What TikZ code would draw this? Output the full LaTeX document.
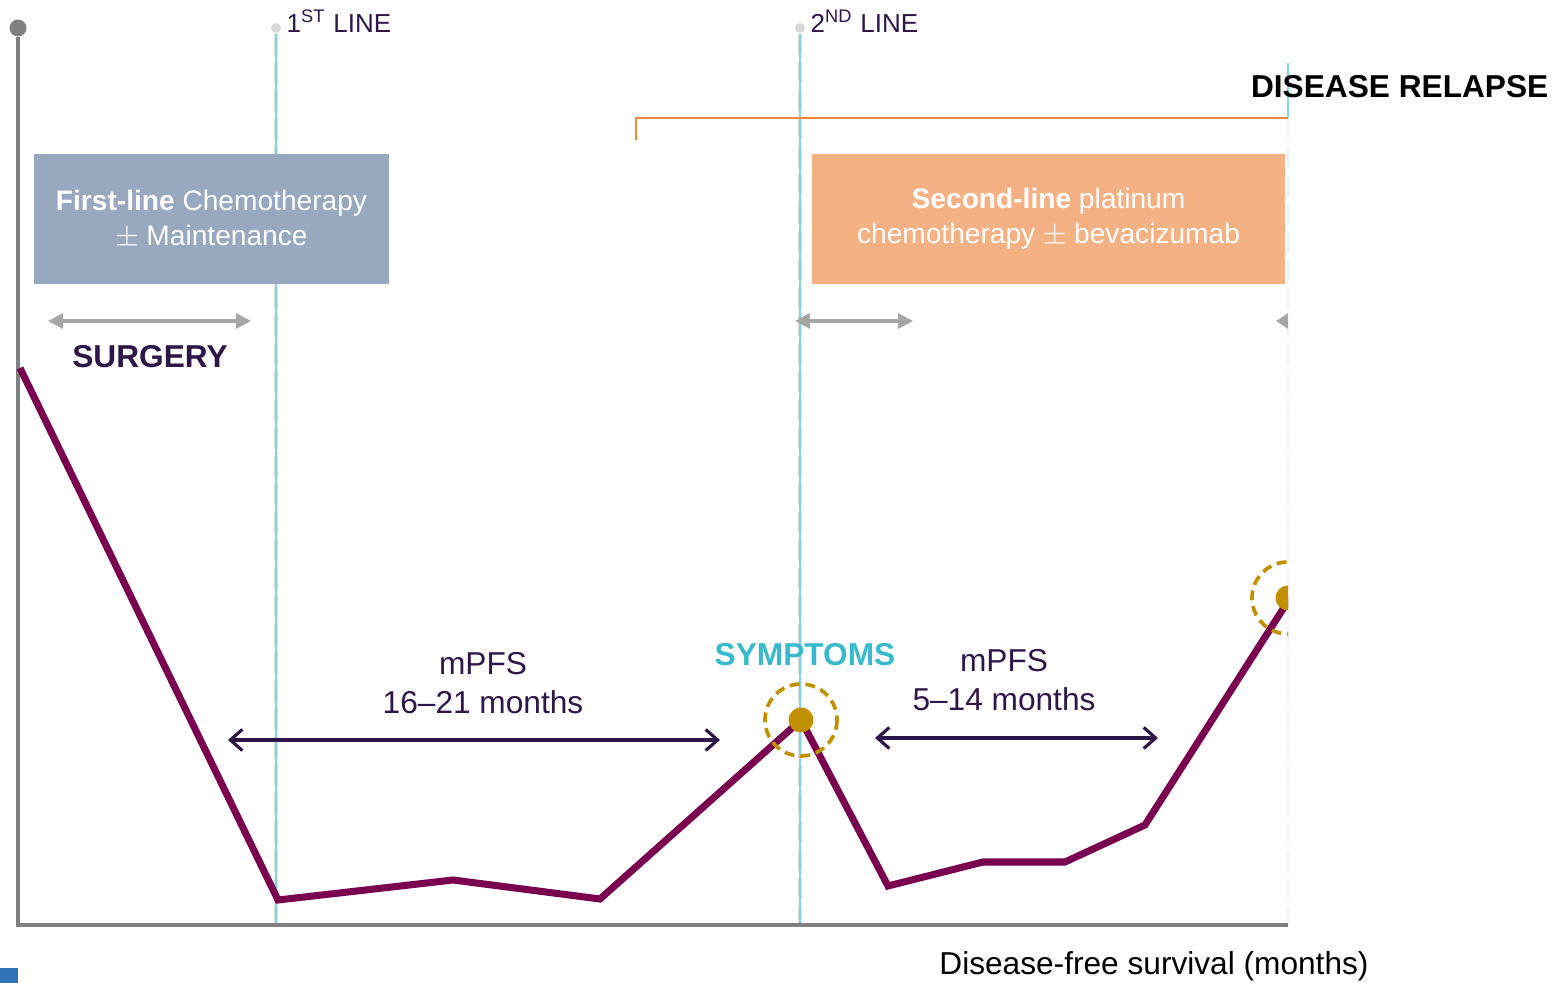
\documentclass[tikz,border=0pt]{standalone}
\usepackage{fontspec}
\setmainfont{Liberation Sans}
\usetikzlibrary{arrows.meta, positioning}
\definecolor{axisgray}{RGB}{128,128,128}
\definecolor{arrowgray}{RGB}{166,166,166}
\definecolor{dotgray}{RGB}{217,217,217}
\definecolor{linecyan}{RGB}{130,214,228}
\definecolor{symcyan}{RGB}{56,186,204}
\definecolor{darkpurple}{RGB}{46,22,72}
\definecolor{curvepurple}{RGB}{122,0,80}
\definecolor{gold}{RGB}{193,144,0}
\definecolor{boxblue}{RGB}{152,168,190}
\definecolor{boxpeach}{RGB}{244,177,131}
\definecolor{bracketorange}{RGB}{240,135,60}
\definecolor{markblue}{RGB}{46,117,182}

\begin{document}
\begin{tikzpicture}[
    x=0.01cm, y=-0.01cm,
    lbl/.style={font=\fontsize{9}{11}\selectfont, text=darkpurple, align=center, inner sep=0pt},
    linelbl/.style={font=\fontsize{7.4}{9}\selectfont, text=darkpurple, anchor=base west, inner sep=0pt},
    box/.style={minimum height=1.3cm, inner sep=0pt, align=center, text=white, font=\fontsize{8}{10}\selectfont},
    topdot/.style={circle, fill=dotgray, minimum size=0.1cm, inner sep=0pt},
    golddot/.style={circle, fill=gold, minimum size=0.25cm, inner sep=0pt},
    vline/.style={dotgray, line width=1pt, dash pattern=on 6pt off 2pt},
    grayarrow/.style={{Triangle[length=4.2pt, width=4.2pt]}-{Triangle[length=4.2pt, width=4.2pt]}, arrowgray, line width=0.9pt},
    darrow/.style={{Straight Barb[length=3.4pt, width=6pt]}-{Straight Barb[length=3.4pt, width=6pt]}, darkpurple, line width=0.9pt},
    ring/.style={gold, line width=1.05pt, dash pattern=on 2.8pt off 1.7pt}
]
    \useasboundingbox (0,0) rectangle (1557,983);

    % treatment lines
    \node[topdot] (l1) at (276,28) {};
    \node[topdot] (l2) at (800,28) {};
    \coordinate (l1b) at (276,925);
    \coordinate (l2b) at (800,925);
    \coordinate (relt) at (1288,63);
    \coordinate (relm) at (1288,118);
    \coordinate (relb) at (1288,925);
    \draw[vline] (l1) -- (l1b);
    \draw[vline] (l2) -- (l2b);
    \draw[vline, gray!12, line width=0.6pt] (relt) -- (relb);
    \draw[linecyan, line width=0.45pt] (l1) -- (l1b);
    \draw[linecyan, line width=0.45pt] (l2) -- (l2b);
    \draw[linecyan, line width=0.45pt] (relt) -- (relm);
    \node[linelbl] (t1) at (286,33) {1\textsuperscript{ST} LINE};
    \node[linelbl] (t2) at (810,33) {2\textsuperscript{ND} LINE};

    % relapse bracket
    \coordinate (brk) at (636,140);
    \draw[bracketorange, line width=0.55pt] (brk) |- (relm);
    \node[font=\bfseries\fontsize{9}{11}\selectfont, anchor=east, inner sep=0pt] (relapse) at (1549,87) {DISEASE RELAPSE};

    % axes
    \node[circle, fill=axisgray, minimum size=0.17cm, inner sep=0pt] (ytop) at (18,28) {};
    \coordinate (orig) at (18,925);
    \coordinate (xend) at (1288,925);
    \draw[axisgray, line width=1.15pt] (ytop) -- (orig) -- (xend);
    \node[lbl, text=black] (xlab) at (1154,966) {Disease-free survival (months)};
    \fill[markblue] (0,968) rectangle (18,983);

    % therapy boxes
    \node[box, fill=boxblue, minimum width=3.55cm] (first) at (211.5,219) {\textbf{First-line} Chemotherapy\\$\pm$ Maintenance};
    \node[box, fill=boxpeach, minimum width=4.73cm] (second) at (1048.5,219) {\textbf{Second-line} platinum\\chemotherapy $\pm$ bevacizumab};

    % surgery and gray arrows
    \coordinate (s1) at (48,321);
    \coordinate (s2) at (251,321);
    \coordinate (c1) at (795,321);
    \coordinate (c2) at (913,321);
    \coordinate (r1) at (1288,321);
    \coordinate (r2) at (1276,321);
    \draw[grayarrow] (s1) -- (s2);
    \draw[grayarrow] (c1) -- (c2);
    \draw[-{Triangle[length=3.4pt, width=4.2pt]}, arrowgray, line width=0.9pt] (r1) -- (r2);
    \node[lbl, font=\bfseries\fontsize{9}{11}\selectfont] (surgery) at (150,357) {SURGERY};

    % disease course
    \begin{scope}
        \clip (0,0) rectangle (1288,983);
        \draw[curvepurple, line width=2pt, line join=miter] (20,368) -- (278,900) -- (453,880) -- (600,899)
            -- (801,720) -- (888,886) -- (983,862) -- (1065,862) -- (1145,825) -- (1290,598);
        \node[golddot] (sym) at (801,720) {};
        \node[golddot] (rel) at (1288,598) {};
        \draw[ring] (sym) circle (36);
        \draw[ring] (rel) circle (36);
    \end{scope}
    \node[lbl, text=symcyan, font=\bfseries\fontsize{9}{11}\selectfont] (symptoms) at (805,655) {SYMPTOMS};

    % progression-free survival
    \node[lbl] (pfs1) at (483,683) {mPFS\\16–21 months};
    \node[lbl] (pfs2) at (1004,680) {mPFS\\5–14 months};
    \coordinate (p1a) at (228,740);
    \coordinate (p1b) at (720,740);
    \coordinate (p2a) at (875,738);
    \coordinate (p2b) at (1158,738);
    \draw[darrow] (p1a) -- (p1b);
    \draw[darrow] (p2a) -- (p2b);
\end{tikzpicture}
\end{document}
